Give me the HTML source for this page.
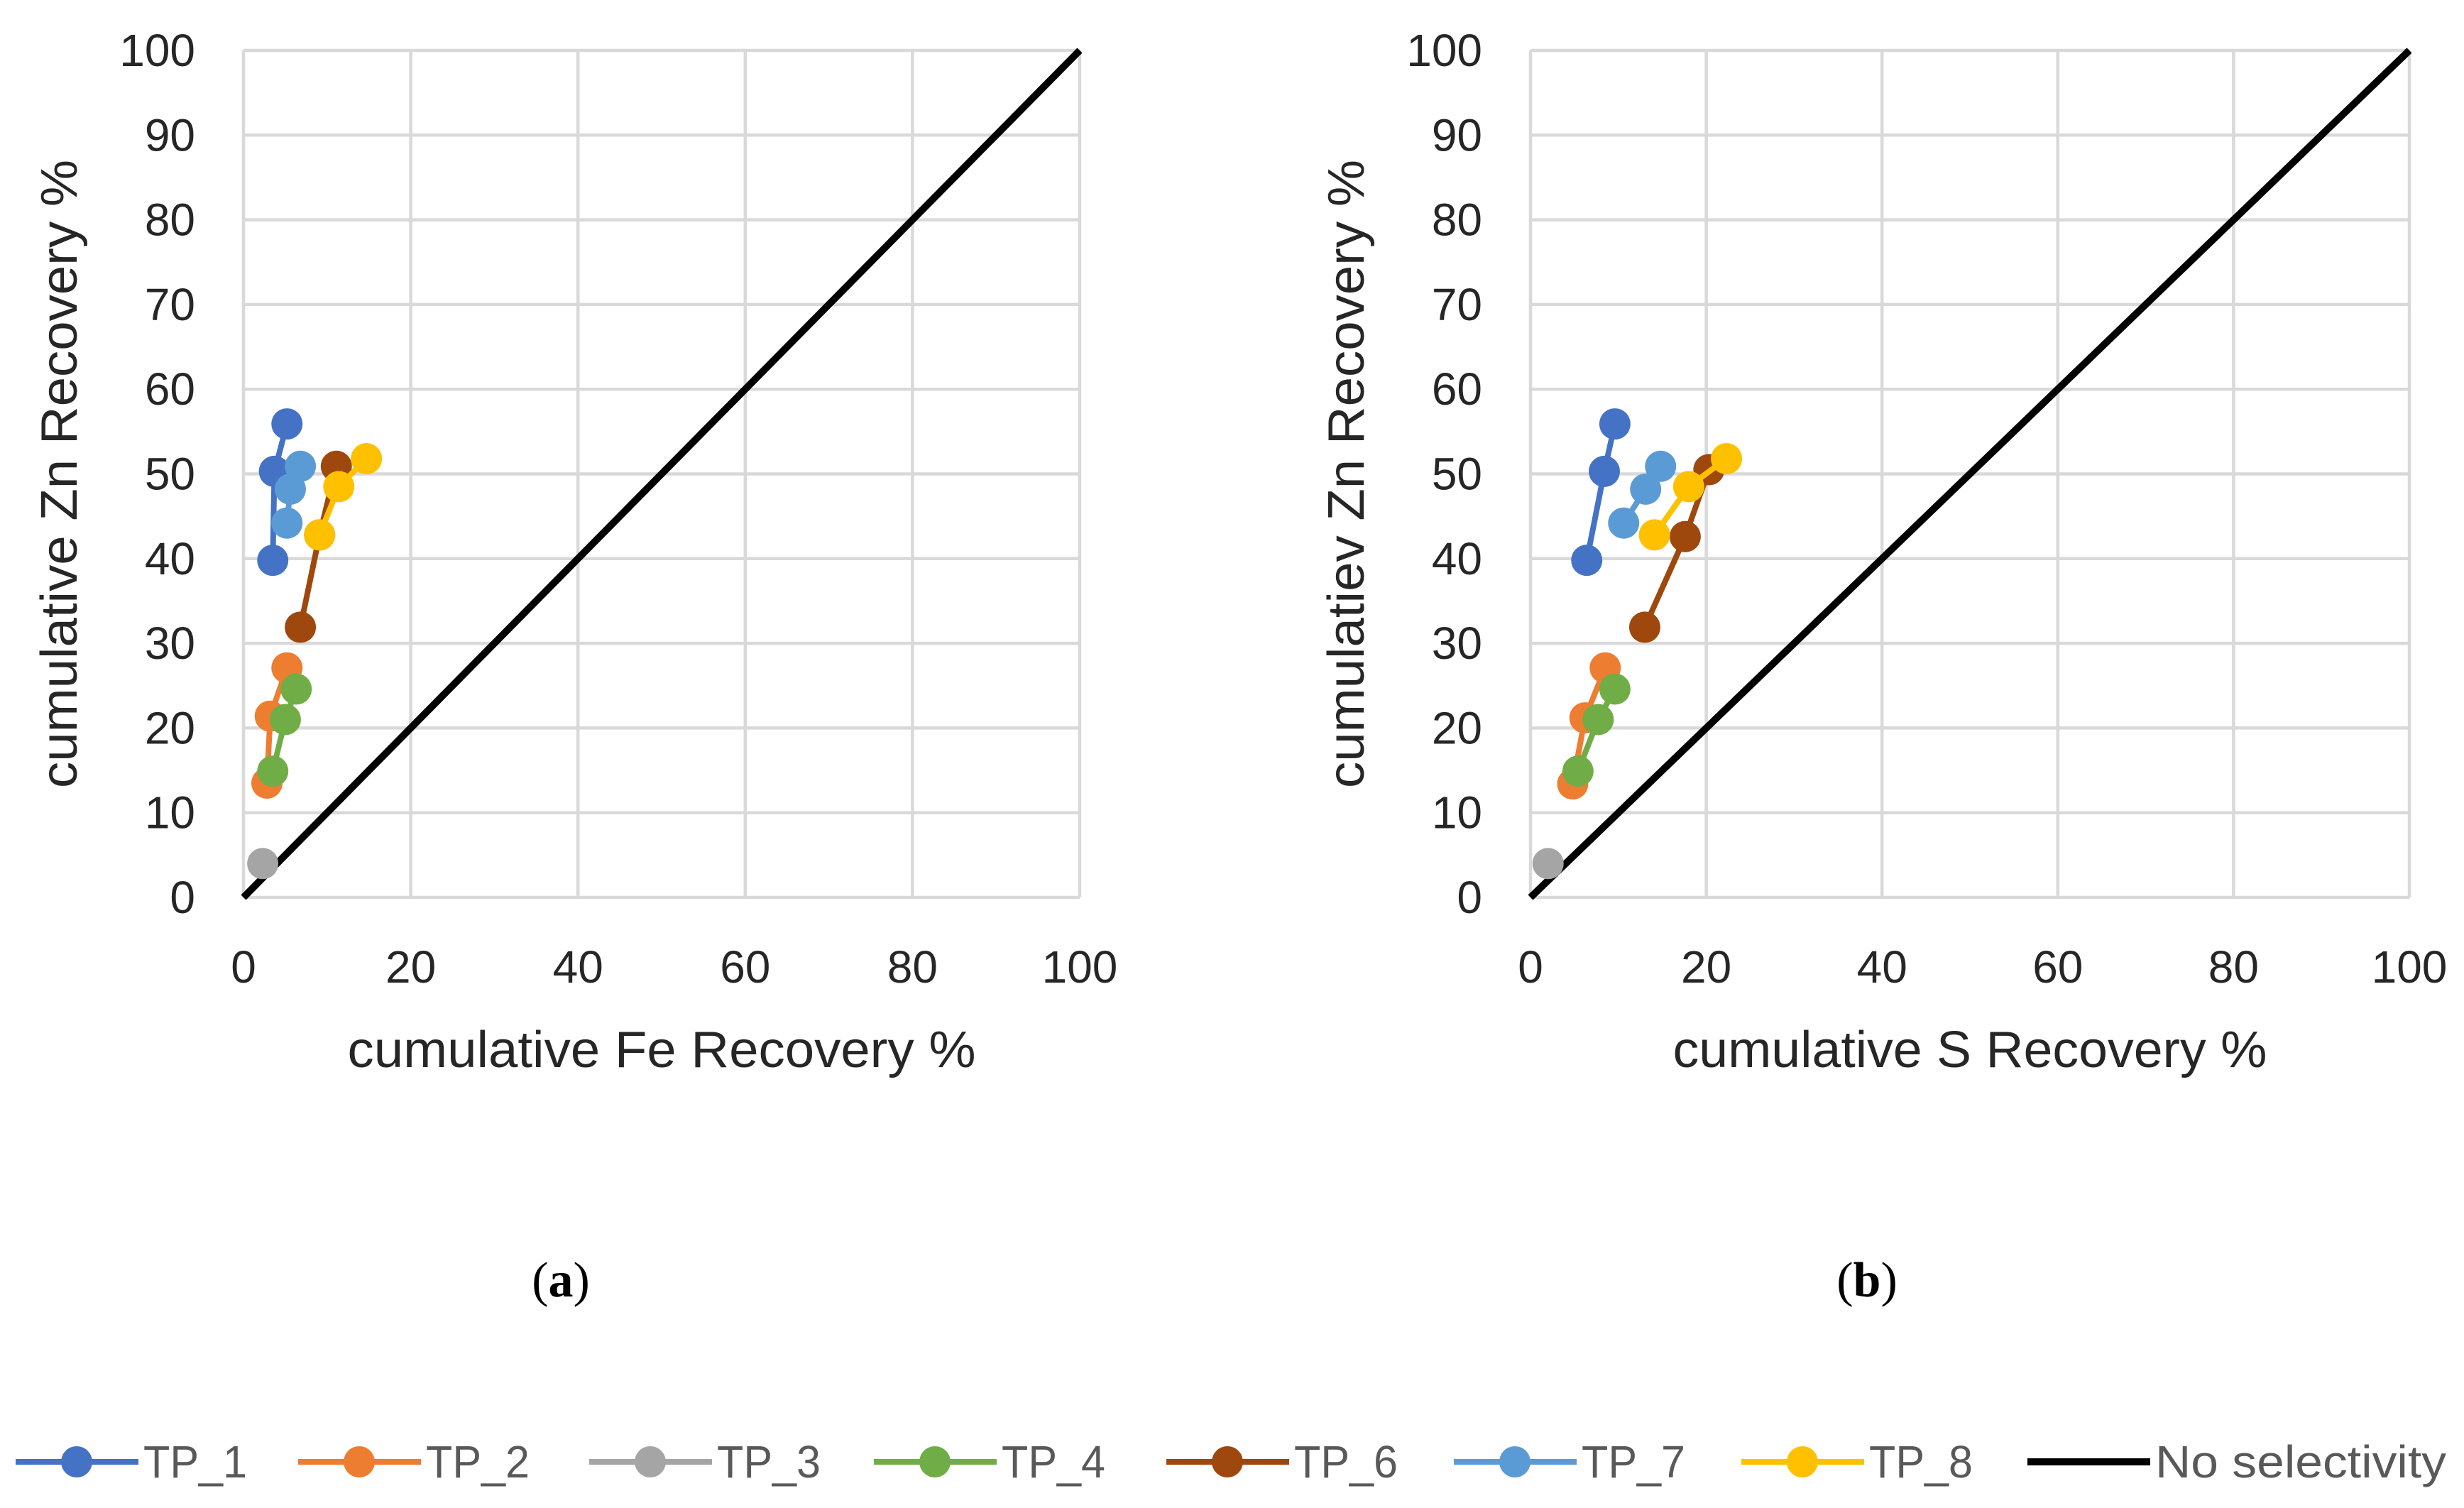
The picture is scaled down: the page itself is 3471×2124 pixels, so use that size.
<!DOCTYPE html>
<html><head><meta charset="utf-8"><style>
html,body{margin:0;padding:0;background:#fff;}
svg{display:block;font-family:"Liberation Sans",sans-serif;}
</style></head><body>
<svg id="chart" width="3471" height="2124" viewBox="0 0 3471 2124" xmlns="http://www.w3.org/2000/svg"></svg>
<script>
const seriesNames = ["TP_1","TP_2","TP_3","TP_4","TP_6","TP_7","TP_8"];
const seriesColors = ["#4472C4","#ED7D31","#A5A5A5","#70AD47","#9E480E","#5B9BD5","#FFC000"];
const znA = [[39.8,50.3,55.9],[13.5,21.4,27.1],[4.0],[14.9,21.0,24.6],[31.9,42.8,50.9],[44.2,48.2,50.9],[42.8,48.5,51.8]];
const feA = [[3.5,3.7,5.2],[2.8,3.2,5.2],[2.3],[3.5,5.0,6.3],[6.8,9.1,11.1],[5.2,5.6,6.8],[9.1,11.4,14.7]];
const znB = [[39.8,50.3,55.9],[13.4,21.2,27.1],[4.0],[14.9,21.0,24.6],[31.9,42.6,50.5],[44.2,48.2,50.9],[42.8,48.5,51.8]];
const sB = [[6.4,8.4,9.6],[4.8,6.2,8.5],[2.0],[5.4,7.7,9.6],[13.0,17.6,20.3],[10.6,13.1,14.8],[14.1,18.0,22.3]];
const tickValues = [0,10,20,30,40,50,60,70,80,90,100];
const xTickValues = [0,20,40,60,80,100];

const svg = document.getElementById('chart');
const NS = "http://www.w3.org/2000/svg";
function mk(tag, attrs, parent){const e=document.createElementNS(NS,tag);for(const k in attrs)e.setAttribute(k,attrs[k]);(parent||svg).appendChild(e);return e;}

function drawChart(id, x0, x1, xs, ys, xTitle, yTitle, label, labelX, xTitleLen){
  const y0 = 1264, y1 = 71;
  const g = mk('g',{});
  
  
  const sx = v => x0 + (x1-x0)*v/100;
  const sy = v => y0 - (y0-y1)*v/100;
  tickValues.forEach(t=>{
    const l = mk('line',{x1:x0,x2:x1,y1:sy(t),y2:sy(t),stroke:'#d9d9d9','stroke-width':4.5},g);
    
    
    const tx = mk('text',{x:x0-68,y:sy(t)+22,'text-anchor':'end','font-size':64,fill:'#262626'},g);
    tx.textContent = t;
    
    
  });
  xTickValues.forEach(t=>{
    const l = mk('line',{x1:sx(t),x2:sx(t),y1:y1,y2:y0,stroke:'#d9d9d9','stroke-width':4.5},g);
    
    
    const tx = mk('text',{x:sx(t),y:y0+120,'text-anchor':'middle','font-size':64,fill:'#262626'},g);
    tx.textContent = t;
    
    
  });
  const d = mk('line',{x1:sx(0),y1:sy(0),x2:sx(100),y2:sy(100),stroke:'#000','stroke-width':10},g);
  
  
  seriesNames.forEach((n,i)=>{
    const sg = mk('g',{},g);
    
    
    const pts = xs[i].map((v,j)=>sx(v)+','+sy(ys[i][j])).join(' ');
    if(xs[i].length>1) mk('polyline',{points:pts,fill:'none',stroke:seriesColors[i],'stroke-width':8},sg);
    xs[i].forEach((v,j)=>{
      const c = mk('circle',{cx:sx(v),cy:sy(ys[i][j]),r:22,fill:seriesColors[i]},sg);
      
      
    });
  });
  const xt = mk('text',{x:(x0+x1)/2,y:1503,'text-anchor':'middle','font-size':72,fill:'#262626',textLength:xTitleLen,lengthAdjust:'spacingAndGlyphs'},g);
  xt.textContent = xTitle;
  
  
  const yx = x0-235, yy = (y0+y1)/2;
  const yt = mk('text',{x:yx,y:yy,'text-anchor':'middle','font-size':72,fill:'#262626',textLength:885,lengthAdjust:'spacingAndGlyphs',transform:`rotate(-90 ${yx} ${yy})`},g);
  yt.textContent = yTitle;
  
  
  const lb = mk('text',{x:labelX,y:1826,'text-anchor':'middle','font-size':70,'font-family':'Liberation Serif, serif',fill:'#000'},g);
  lb.innerHTML = '(<tspan font-weight="bold">'+label+'</tspan>)';
  
  
}
drawChart('a',343,1521,feA,znA,'cumulative Fe Recovery %','cumulative Zn Recovery %','a',790,885);
drawChart('b',2156,3394,sB,znB,'cumulative S Recovery %','cumulatiev Zn Recovery %','b',2630,837);

const legendNames = ["TP_1","TP_2","TP_3","TP_4","TP_6","TP_7","TP_8","No selectivity"];
const legendColors = seriesColors.concat(["#000"]);
const legendStarts = [22,420,830,1231,1643,2048,2453,2856];
const legendTextLen = [146,146,146,146,146,146,146,410];
const lg = mk('g',{});


legendNames.forEach((n,i)=>{
  const e = mk('g',{},lg);
  
  
  const x = legendStarts[i], y = 2059;
  mk('line',{x1:x,x2:x+173,y1:y,y2:y,stroke:legendColors[i],'stroke-width':i===7?10:8},e);
  if(i<7) mk('circle',{cx:x+86,cy:y,r:22,fill:legendColors[i]},e);
  const t = mk('text',{x:x+180,y:y+22,'font-size':64,fill:'#595959',textLength:legendTextLen[i],lengthAdjust:'spacingAndGlyphs'},e);
  t.textContent = n;
});
</script>
</body></html>
